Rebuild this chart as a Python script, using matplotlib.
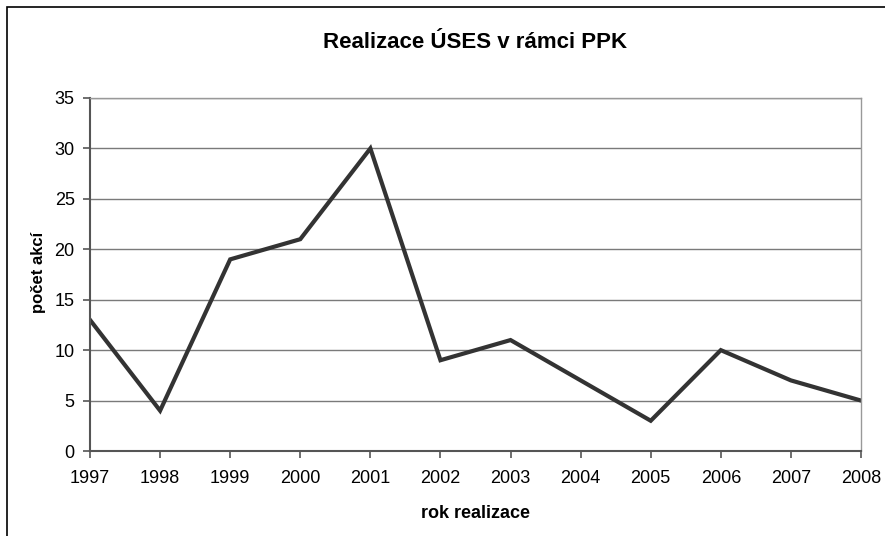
import matplotlib.pyplot as plt
from matplotlib.patches import Rectangle

plt.rcParams['font.family'] = ['Liberation Sans', 'DejaVu Sans']

# data
years = [1997, 1998, 1999, 2000, 2001, 2002, 2003, 2004, 2005, 2006, 2007, 2008]
counts = [13, 4, 19, 21, 30, 9, 11, 7, 3, 10, 7, 5]
year_labels = [str(y) for y in years]

W, H = 885, 536
fig = plt.figure(figsize=(W / 100, H / 100), dpi=100)
ax = fig.add_axes([90 / W, 1 - 451 / H, (861 - 90) / W, (451 - 98) / H])

# outer chart border (only left and top visible)
fig.patches.append(Rectangle((7 / W, -0.05), 1.1, 1 - 7 / H + 0.05,
                             transform=fig.transFigure, fill=False,
                             edgecolor='black', linewidth=1.2))

ax.plot(years, counts, color='#333333', linewidth=3, solid_joinstyle='miter')

ax.set_xlim(years[0], years[-1])
ax.set_ylim(0, 35)
ax.set_yticks(range(0, 36, 5))
ax.set_xticks(years)
ax.set_xticklabels(year_labels)
ax.yaxis.grid(True, color='#7a7a7a', linewidth=1)
ax.set_axisbelow(True)

for side in ['top', 'right']:
    ax.spines[side].set_color('#999999')
    ax.spines[side].set_linewidth(1)
for side in ['left', 'bottom']:
    ax.spines[side].set_color('#555555')
    ax.spines[side].set_linewidth(1.5)

ax.tick_params(axis='both', labelsize=13, color='#555555', width=1.2,
               length=5, direction='out')
ax.tick_params(axis='x', pad=9)
ax.tick_params(axis='y', pad=6)

fig.text((90 + 861) / 2 / W, 1 - 42 / H, 'Realizace ÚSES v rámci PPK',
         ha='center', va='center', fontsize=16, fontweight='bold')
fig.text(475 / W, 1 - 514 / H, 'rok realizace',
         ha='center', va='center', fontsize=13, fontweight='bold')
fig.text(38 / W, 1 - 272 / H, 'počet akcí', rotation=90,
         ha='center', va='center', fontsize=12, fontweight='bold')

fig.savefig('out.png', dpi=100)
